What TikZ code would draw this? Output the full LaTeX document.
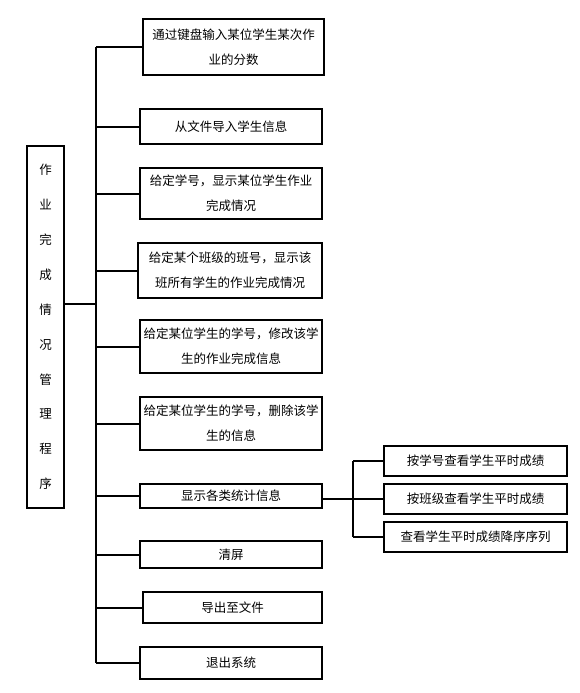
\documentclass[tikz,border=0pt]{standalone}
\usepackage{fontspec}
\newfontfamily\cjk{Noto Sans CJK SC}
\tikzset{
	box/.style={draw, line width=2pt, fill=white, inner sep=0pt, align=center,
		font={\cjk\fontsize{12.5}{25}\selectfont}},
	link/.style={line width=2pt},
}
\begin{document}
\begin{tikzpicture}[x=1pt, y=-1pt]
		\useasboundingbox[fill=white] (0,0) rectangle (579,693);
		
		% root
		\node[box, minimum width=37, minimum height=362, font={\cjk\fontsize{12.5}{34.9}\selectfont}] (root) at (45.5,327)
			{作\\业\\完\\成\\情\\况\\管\\理\\程\\序};
		
		% functions
		\node[box, minimum width=181, minimum height=56] (input) at (233.5,47) {通过键盘输入某位学生某次作\\业的分数};
		\node[box, minimum width=182, minimum height=35] (load) at (231,126.5) {从文件导入学生信息};
		\node[box, minimum width=182, minimum height=51] (showstu) at (231,193.5) {给定学号，显示某位学生作业\\完成情况};
		\node[box, minimum width=184, minimum height=55] (showcls) at (230,270.5) {给定某个班级的班号，显示该\\班所有学生的作业完成情况};
		\node[box, minimum width=182, minimum height=53] (modify) at (231,346.5) {给定某位学生的学号，修改该学\\生的作业完成信息};
		\node[box, minimum width=182, minimum height=53] (delete) at (231,423.5) {给定某位学生的学号，删除该学\\生的信息};
		\node[box, minimum width=182, minimum height=24] (stat) at (231,496) {显示各类统计信息};
		\node[box, minimum width=182, minimum height=27] (clear) at (231,554.5) {清屏};
		\node[box, minimum width=179, minimum height=31] (export) at (232.5,607.5) {导出至文件};
		\node[box, minimum width=182, minimum height=32] (quit) at (231,663) {退出系统};
		
		% statistics
		\node[box, minimum width=183, minimum height=30] (byid) at (475.5,461) {按学号查看学生平时成绩};
		\node[box, minimum width=183, minimum height=30] (bycls) at (475.5,499) {按班级查看学生平时成绩};
		\node[box, minimum width=183, minimum height=30] (sorted) at (475.5,537) {查看学生平时成绩降序序列};
		
		% main trunk
		\coordinate (rootjoin) at (96,304);
		\draw[link] (root.east |- rootjoin) -- (rootjoin);
		\draw[link] (rootjoin |- input.west) -- (rootjoin |- quit.west);
		\foreach \f in {input, load, showstu, showcls, modify, delete, stat, clear, export, quit}
			\draw[link] (rootjoin |- \f.west) -- (\f.west);
		
		% sub trunk
		\coordinate (subjoin) at (353,499);
		\draw[link] (stat.east |- subjoin) -- (subjoin);
		\draw[link] (subjoin |- byid.west) -- (subjoin |- sorted.west);
		\foreach \s in {byid, bycls, sorted}
			\draw[link] (subjoin |- \s.west) -- (\s.west);
	\end{tikzpicture}
\end{document}
